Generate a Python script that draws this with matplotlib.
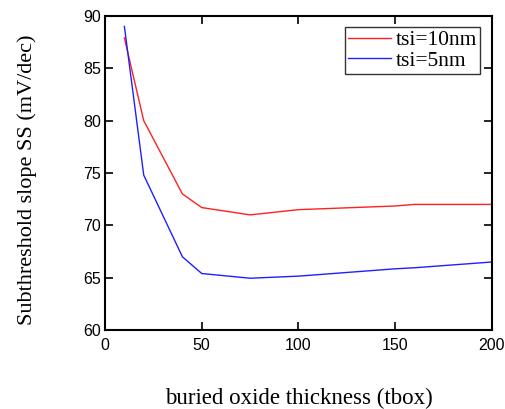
import matplotlib
matplotlib.use("Agg")
import matplotlib.pyplot as plt

# buried oxide thickness (nm)
tbox = [10, 20, 40, 50, 75, 100, 150, 160, 200]
ss_10nm = [87.9, 80.0, 73.0, 71.7, 71.0, 71.5, 71.85, 72.0, 72.0]
ss_5nm = [89.0, 74.8, 67.0, 65.4, 64.95, 65.15, 65.85, 65.95, 66.5]

plt.rcParams['font.family'] = ['Liberation Serif', 'DejaVu Serif']

fig = plt.figure(figsize=(5.05, 4.09), dpi=100)
ax = fig.add_axes([0.208, 0.193, 0.766, 0.768])

ax.plot(tbox, ss_10nm, color='#ff2020', lw=1.0, label='tsi=10nm')
ax.plot(tbox, ss_5nm, color='#2020ff', lw=1.0, label='tsi=5nm')

ax.set_xlim(0, 200)
ax.set_ylim(60, 90)
ax.set_xticks([0, 50, 100, 150, 200])
ax.set_yticks([60, 65, 70, 75, 80, 85, 90])
ax.tick_params(direction='in', length=6, width=1.2, top=True, right=True,
               labelsize=11.5, pad=3)
ax.tick_params(axis='x', pad=6)
for lab in ax.get_xticklabels() + ax.get_yticklabels():
    lab.set_family('Liberation Sans')
for s in ax.spines.values():
    s.set_linewidth(1.5)

ax.set_ylabel('Subthreshold slope SS (mV/dec)', fontsize=16)
ax.yaxis.set_label_coords(-0.175, 0.478)
ax.set_xlabel('buried oxide thickness (tbox)', fontsize=16.5)
ax.xaxis.set_label_coords(0.5, -0.185)

leg = ax.legend(loc='upper right', bbox_to_anchor=(0.97, 0.965), fontsize=15.5,
                frameon=True, fancybox=False, edgecolor='black',
                handlelength=2.0, handletextpad=0.2, borderpad=0.15,
                labelspacing=0.02, borderaxespad=0.0)
leg.get_frame().set_linewidth(1.0)

fig.savefig('out.png', dpi=100)
